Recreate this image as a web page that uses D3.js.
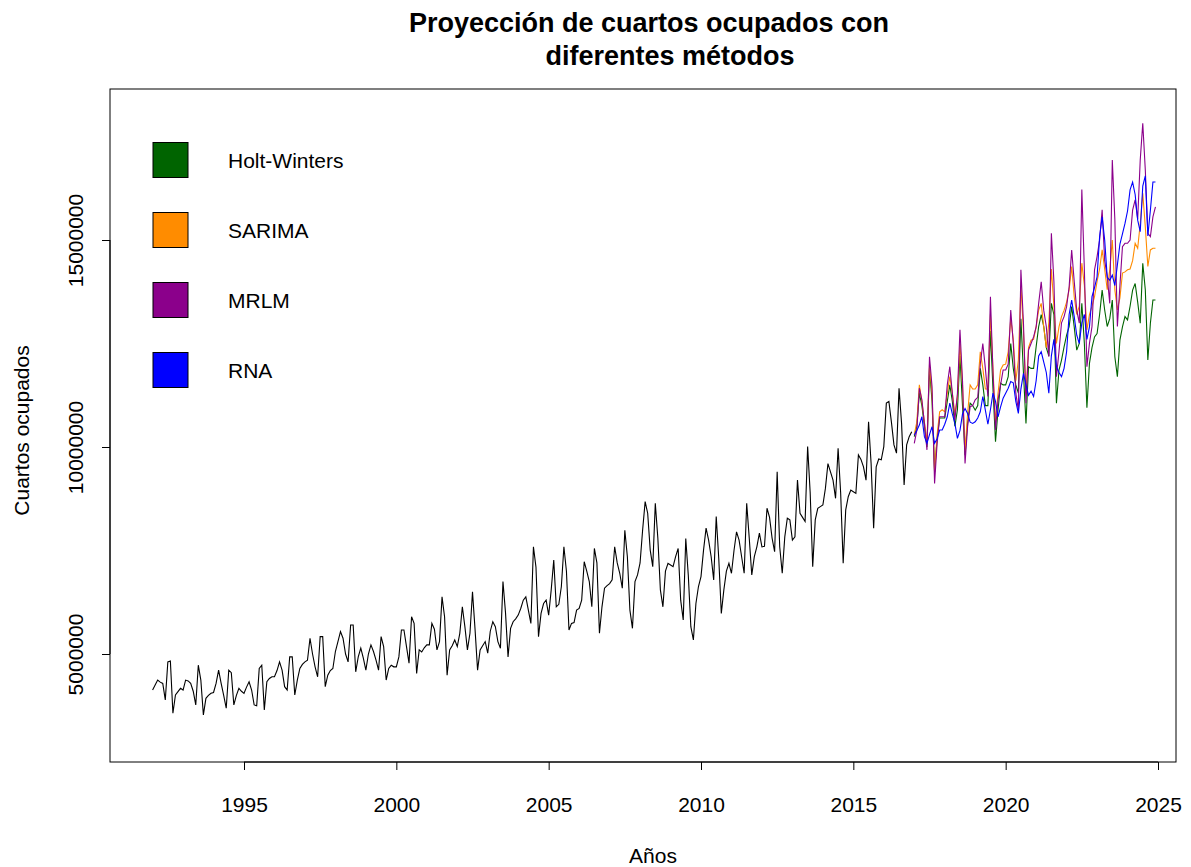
<!DOCTYPE html>
<html>
<head>
<meta charset="utf-8">
<script src="https://cdn.jsdelivr.net/npm/d3@7"></script>
<style>
  html, body { margin: 0; padding: 0; background: #ffffff; }
  svg { display: block; font-family: "Liberation Sans", Arial, sans-serif; }
</style>
</head>
<body>
<svg id="chart" width="1191" height="867"></svg>
<script>
// ---------------- DATA (millions of occupied rooms) ----------------
const histStart = 1992;           // monthly series Jan 1992 - Dec 2016
const historico = [
  4.13,4.25,4.37,4.32,4.29,3.89,4.81,4.83,3.57,4.01,4.09,4.17,
  4.13,4.37,4.35,4.29,4.10,3.77,4.73,4.37,3.53,3.93,4.00,4.05,
  4.07,4.29,4.61,4.29,4.00,3.69,4.61,4.55,3.77,4.00,4.17,4.10,
  4.05,4.20,4.33,4.13,3.77,3.75,4.65,4.73,3.65,4.33,4.41,4.45,
  4.45,4.60,4.81,4.61,4.21,4.13,4.93,4.93,4.01,4.37,4.65,4.75,
  4.81,4.85,5.38,5.00,4.69,4.45,5.42,5.42,4.21,4.49,4.60,4.65,
  5.06,5.30,5.54,5.38,5.00,4.81,5.70,5.70,4.57,4.93,5.14,4.90,
  4.61,5.00,5.22,5.06,4.85,4.61,5.42,5.18,4.37,4.65,4.73,4.69,
  4.69,4.93,5.58,5.58,5.18,4.78,5.90,5.74,4.53,5.10,5.05,5.15,
  5.22,5.22,5.74,5.60,5.10,5.30,6.38,5.90,4.49,5.10,5.20,5.34,
  5.18,5.50,6.14,5.66,5.10,5.50,6.50,5.60,4.61,5.10,5.20,5.30,
  5.02,5.55,5.78,5.66,5.30,5.14,6.75,6.00,4.93,5.62,5.78,5.85,
  5.94,6.10,6.30,6.38,6.06,5.74,7.59,7.10,5.42,5.98,6.22,6.30,
  5.94,6.55,7.27,6.14,6.20,6.63,7.59,7.00,5.58,5.74,5.76,6.06,
  6.10,6.30,7.23,7.00,6.75,6.14,7.55,7.20,5.50,6.14,6.59,6.65,
  6.70,6.79,7.59,7.20,6.95,6.59,7.99,7.35,6.06,5.62,6.75,6.91,
  7.20,7.99,8.68,8.40,7.51,7.11,8.64,7.80,6.55,6.14,7.00,7.19,
  7.15,7.11,7.35,7.55,6.30,5.82,7.79,6.90,5.66,5.34,6.22,6.63,
  6.87,7.51,8.04,7.75,7.35,6.79,8.32,7.30,5.98,6.55,7.00,7.19,
  6.95,7.50,7.95,7.75,7.35,6.95,8.64,7.80,6.91,7.35,7.59,7.92,
  7.59,7.60,8.52,8.30,7.80,7.47,9.40,7.59,6.95,7.83,8.28,8.24,
  7.75,7.83,9.20,8.40,8.30,8.20,10.01,8.90,7.11,8.24,8.52,8.56,
  8.60,9.00,9.60,9.40,9.20,8.76,9.97,8.90,7.19,8.48,8.80,8.96,
  8.92,8.88,9.81,9.70,9.52,9.20,10.61,9.60,8.04,9.52,9.71,9.69,
  10.01,11.06,11.10,10.60,10.05,9.85,11.42,10.57,9.08,10.05,10.25,10.37
];

const fcStart = 2017;             // forecasts Jan 2017 - Dec 2024
const holtWinters = [
  10.25,10.50,11.30,11.00,10.50,10.00,11.90,11.10,9.40,10.20,10.70,10.70,
  10.70,11.10,11.50,11.10,10.50,10.90,12.20,11.00,9.80,10.60,11.06,11.00,
  10.89,11.00,11.90,11.50,11.00,11.00,12.80,11.40,10.13,10.90,11.54,11.50,
  11.50,11.70,12.50,11.90,11.50,11.30,13.10,11.80,10.57,11.94,11.90,11.90,
  12.42,12.91,13.20,12.91,12.40,12.20,13.47,13.20,11.06,11.86,12.10,12.42,
  12.70,12.91,13.39,12.90,12.34,12.50,13.47,12.50,10.95,12.02,12.40,12.66,
  12.74,13.20,13.79,13.31,12.91,13.10,13.55,12.18,11.70,12.58,12.90,13.15,
  13.07,13.40,13.79,13.95,13.50,12.99,14.44,13.80,12.10,12.99,13.55,13.55
];
const sarima = [
  10.30,10.60,11.50,11.10,10.60,10.10,12.00,11.30,9.40,10.30,10.85,10.90,
  10.85,11.30,11.70,11.30,10.80,11.20,12.50,11.50,9.90,10.80,11.50,11.40,
  11.40,11.50,12.30,11.90,11.40,11.40,13.20,11.90,10.60,11.30,11.86,11.98,
  12.00,12.30,13.10,12.60,11.60,12.10,13.90,12.80,11.30,12.40,12.58,12.60,
  12.90,13.31,13.47,12.90,12.40,13.00,14.30,13.40,12.50,12.90,13.15,13.30,
  13.50,13.80,14.36,13.63,13.20,13.40,14.44,13.90,12.83,13.20,13.40,13.63,
  14.00,14.30,14.76,14.30,13.80,14.28,15.00,13.80,13.31,13.60,14.20,14.23,
  14.28,14.30,14.50,14.92,14.80,15.40,16.13,15.32,14.36,14.76,14.80,14.80
];
const mrlm = [
  10.09,10.40,11.42,11.14,10.57,9.93,12.18,11.46,9.12,10.09,10.73,10.73,
  10.73,11.50,11.94,11.30,10.65,11.30,12.83,11.60,9.60,10.49,10.97,11.00,
  11.14,11.20,12.00,12.50,11.90,11.22,13.63,11.80,10.41,11.14,11.50,11.86,
  11.86,12.00,13.31,12.50,11.30,10.89,14.28,13.00,11.06,12.34,12.50,12.66,
  12.90,13.47,13.99,13.30,12.91,12.18,15.16,14.00,11.70,12.30,13.00,13.15,
  13.39,13.87,14.76,14.00,13.30,12.99,16.22,14.28,11.94,12.50,12.91,14.28,
  14.60,15.00,15.73,14.50,14.12,13.47,16.93,15.50,12.91,13.90,14.84,14.92,
  14.92,15.00,15.72,15.97,15.50,16.93,17.82,16.69,15.16,15.08,15.56,15.80
];
const rna = [
  10.29,10.40,10.53,10.73,10.25,10.09,10.30,10.49,10.09,10.20,10.41,10.41,
  10.55,10.73,11.06,10.80,10.57,10.21,10.40,10.80,10.93,10.81,10.60,10.57,
  10.61,10.70,10.85,11.22,10.89,10.55,10.90,11.30,11.10,10.73,10.97,11.18,
  11.30,11.42,11.58,11.55,11.10,10.81,11.40,11.78,11.50,11.25,11.35,11.22,
  11.60,12.20,12.30,12.05,11.80,11.30,12.20,12.60,11.94,11.80,11.70,11.90,
  12.30,13.20,13.55,13.15,12.70,12.50,13.00,13.20,12.60,12.90,13.63,13.85,
  14.11,15.08,15.56,15.00,14.10,14.03,14.15,13.90,14.40,14.90,15.15,15.40,
  15.70,16.21,16.40,16.10,15.48,15.20,16.30,16.55,15.10,15.72,16.40,16.40
];

const seriesNames  = ["Holt-Winters", "SARIMA", "MRLM", "RNA"];
const seriesColors = ["#006400", "#FF8C00", "#8B008B", "#0000FF"];
const forecasts    = [holtWinters, sarima, mrlm, rna];

const xTicks = [1995, 2000, 2005, 2010, 2015, 2020, 2025];
const yTicks = [5000000, 10000000, 15000000];
const UNIT = 1e6;

const titleLines = ["Proyección de cuartos ocupados con", "diferentes métodos"];
const xLabel = "Años";
const yLabel = "Cuartos ocupados";

// ---------------- LAYOUT ----------------
const svg = d3.select("#chart");
const box = {left: 110, right: 1176, top: 89, bottom: 762};

const x = d3.scaleLinear().domain([1995, 2025]).range([244, 1158]);
const y = d3.scaleLinear().domain([5000000, 15000000]).range([654, 240]);

// plot frame
svg.append("rect")
  .attr("x", box.left).attr("y", box.top)
  .attr("width", box.right - box.left).attr("height", box.bottom - box.top)
  .attr("fill", "none").attr("stroke", "#000").attr("stroke-width", 1);

// x axis
const gx = svg.append("g")
  .attr("transform", `translate(0,${box.bottom})`)
  .call(d3.axisBottom(x).tickValues(xTicks).tickFormat(d3.format("d"))
        .tickSize(8).tickPadding(27).tickSizeOuter(0));
gx.select(".domain").attr("d", `M${x(1995)},0H${x(2025)}`);
gx.selectAll("text").attr("font-size", 21).attr("fill", "#000")
  .attr("font-family", "Liberation Sans, Arial, sans-serif");

// y axis
const gy = svg.append("g")
  .attr("transform", `translate(${box.left},0)`)
  .call(d3.axisLeft(y).tickValues(yTicks).tickFormat(d3.format("d"))
        .tickSize(8).tickSizeOuter(0));
gy.select(".domain").attr("d", `M0,${y(5000000)}V${y(15000000)}`);
gy.selectAll("text")
  .attr("x", 0).attr("dy", 0)
  .attr("text-anchor", "middle")
  .attr("transform", "translate(-27,0) rotate(-90)")
  .attr("font-size", 21).attr("fill", "#000")
  .attr("font-family", "Liberation Sans, Arial, sans-serif");

// titles
svg.append("text")
  .attr("x", 649).attr("y", 32)
  .attr("text-anchor", "middle").attr("font-weight", "bold").attr("font-size", 27)
  .text(titleLines[0]);
svg.append("text")
  .attr("x", 670).attr("y", 65)
  .attr("text-anchor", "middle").attr("font-weight", "bold").attr("font-size", 27)
  .text(titleLines[1]);

svg.append("text")
  .attr("x", (box.left + box.right) / 2 + 10).attr("y", 863)
  .attr("text-anchor", "middle").attr("font-size", 21)
  .text(xLabel);
svg.append("text")
  .attr("transform", `translate(29,${(box.top + box.bottom) / 2 + 5}) rotate(-90)`)
  .attr("text-anchor", "middle").attr("font-size", 21)
  .text(yLabel);

// lines
const histLine = d3.line()
  .x((d, i) => x(histStart + i / 12))
  .y(d => y(d * UNIT));
const fcLine = d3.line()
  .x((d, i) => x(fcStart + i / 12))
  .y(d => y(d * UNIT));

svg.append("path").datum(historico)
  .attr("d", histLine).attr("fill", "none")
  .attr("stroke", "#000").attr("stroke-width", 1.1);

forecasts.forEach((s, k) => {
  svg.append("path").datum(s)
    .attr("d", fcLine).attr("fill", "none")
    .attr("stroke", seriesColors[k]).attr("stroke-width", 1.1);
});

// legend
const lg = svg.append("g");
seriesNames.forEach((name, k) => {
  const cy = 160 + k * 70;
  lg.append("rect")
    .attr("x", 153).attr("y", cy - 17.5).attr("width", 35).attr("height", 35)
    .attr("fill", seriesColors[k]).attr("stroke", "#000").attr("stroke-width", 1);
  lg.append("text")
    .attr("x", 228).attr("y", cy + 7.5)
    .attr("font-size", 21).attr("fill", "#000")
    .text(name);
});
</script>
</body>
</html>
